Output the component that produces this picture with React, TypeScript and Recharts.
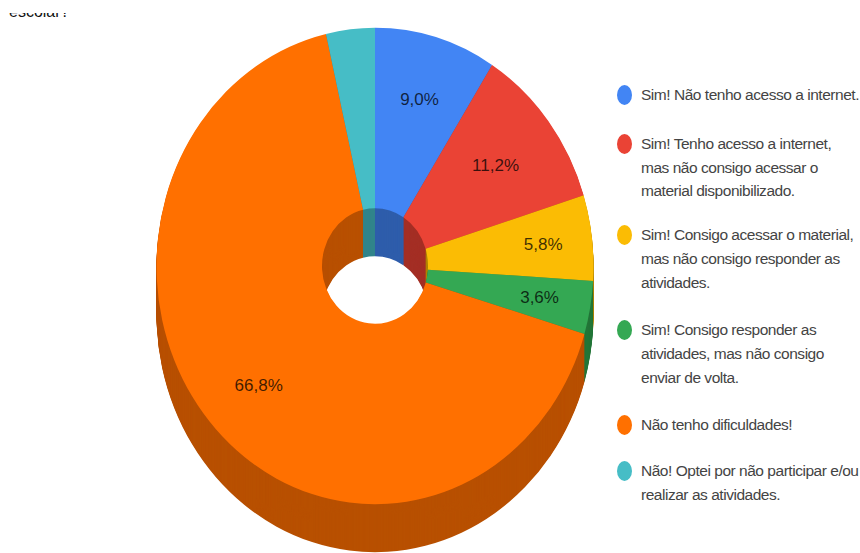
import { Legend, Pie, PieChart, Sector } from 'recharts';

const categories = [
  ['Sim! Não tenho acesso a internet.'],
  ['Sim! Tenho acesso a internet,', 'mas não consigo acessar o', 'material disponibilizado.'],
  ['Sim! Consigo acessar o material,', 'mas não consigo responder as', 'atividades.'],
  ['Sim! Consigo responder as', 'atividades, mas não consigo', 'enviar de volta.'],
  ['Não tenho dificuldades!'],
  ['Não! Optei por não participar e/ou', 'realizar as atividades.'],
];
const shares = [9.0, 11.2, 5.8, 3.6, 66.8, 3.6];
const shownLabels = ['9,0%', '11,2%', '5,8%', '3,6%', '66,8%', ''];
const topColors = ['#4285f4', '#ea4335', '#fbbc04', '#34a853', '#ff7000', '#46bdc6'];
const wallColors = ['#2e5dab', '#a42f25', '#b08403', '#247639', '#b85001', '#31848b'];

const CX = 375;
const CY = 266;
const OUTER = 218.5;
const INNER = 53;
const SQUASH = 1.09; // the pie face is slightly taller than wide
const DEPTH = 48;

// how far out each percentage sits, as a share of the outer radius
const labelRadii = [0.73, 0.695, 0.775, 0.765, 0.73, 0.73];
// space under each legend row
const rowGaps = [25, 20, 23.6, 23.6, 22.2, 0];

const faceData = shares.map((value, i) => ({ name: categories[i][0], value, fill: topColors[i] }));
const wallData = shares.map((value, i) => ({ name: categories[i][0], value, fill: wallColors[i] }));

// every slice is a normal sector, stretched vertically around its own centre
const stretchedSector = (props: any) => (
  <g transform={`translate(0 ${props.cy}) scale(1 ${SQUASH}) translate(0 ${-props.cy})`}>
    <Sector {...props} />
  </g>
);

// wall layers from the bottom of the pie up to just under the face
const wallOffsets: number[] = [];
for (let d = DEPTH; d > 0; d--) wallOffsets.push(d);

const sliceLabel = (props: any) => {
  const { cx, cy, midAngle, outerRadius, index } = props;
  const rad = (midAngle * Math.PI) / 180;
  const r = outerRadius * labelRadii[index];
  return (
    <text
      x={cx + r * Math.cos(rad)}
      y={cy - r * SQUASH * Math.sin(rad)}
      textAnchor="middle"
      dominantBaseline="central"
      fontFamily="Liberation Sans, Arial, sans-serif"
      fontSize={17}
      fill="#000"
      fillOpacity={0.75}
    >
      {shownLabels[index]}
    </text>
  );
};

const LegendList = () => (
  <div
    style={{
      fontFamily: 'Liberation Sans, Arial, sans-serif',
      fontSize: 15.5,
      letterSpacing: -0.47,
      lineHeight: '23.8px',
      color: '#444',
    }}
  >
    {categories.map((lines, i) => (
      <div key={i} style={{ display: 'flex', marginBottom: rowGaps[i] }}>
        <span
          style={{
            width: 15,
            height: 20,
            marginTop: 2,
            marginRight: 9,
            borderRadius: '50%',
            background: topColors[i],
            flexShrink: 0,
          }}
        />
        <div style={{ whiteSpace: 'nowrap' }}>
          {lines.map((line) => (
            <div key={line}>{line}</div>
          ))}
        </div>
      </div>
    ))}
  </div>
);

export default function App() {
  return (
    <div style={{ position: 'absolute', left: 0, top: 0, width: 860, height: 553, background: '#fff', overflow: 'hidden' }}>
      {/* last line of the question above the chart, mostly cut away */}
      <div style={{ position: 'absolute', left: 9, top: 13, height: 4, width: 70, overflow: 'hidden' }}>
        <div
          style={{
            marginTop: -9,
            fontFamily: 'Liberation Sans, Arial, sans-serif',
            fontSize: 16,
            lineHeight: '16px',
            color: '#111',
          }}
        >
          escolar?
        </div>
      </div>
      <PieChart width={860} height={553} margin={{ top: 0, right: 0, bottom: 0, left: 0 }}>
        {wallOffsets.map((d) => (
          <Pie
            key={d}
            data={wallData}
            dataKey="value"
            cx={CX}
            cy={CY + d}
            innerRadius={INNER}
            outerRadius={OUTER}
            startAngle={90}
            endAngle={-270}
            stroke="none"
            shape={stretchedSector}
            legendType="none"
            isAnimationActive={false}
          />
        ))}
        <Pie
          data={faceData}
          dataKey="value"
          cx={CX}
          cy={CY}
          innerRadius={INNER}
          outerRadius={OUTER}
          startAngle={90}
          endAngle={-270}
          stroke="none"
          shape={stretchedSector}
          label={sliceLabel}
          labelLine={false}
          isAnimationActive={false}
        />
        <Legend
          content={<LegendList />}
          layout="vertical"
          verticalAlign="top"
          align="right"
          wrapperStyle={{ left: 617, top: 83, width: 243 }}
        />
      </PieChart>
    </div>
  );
}
